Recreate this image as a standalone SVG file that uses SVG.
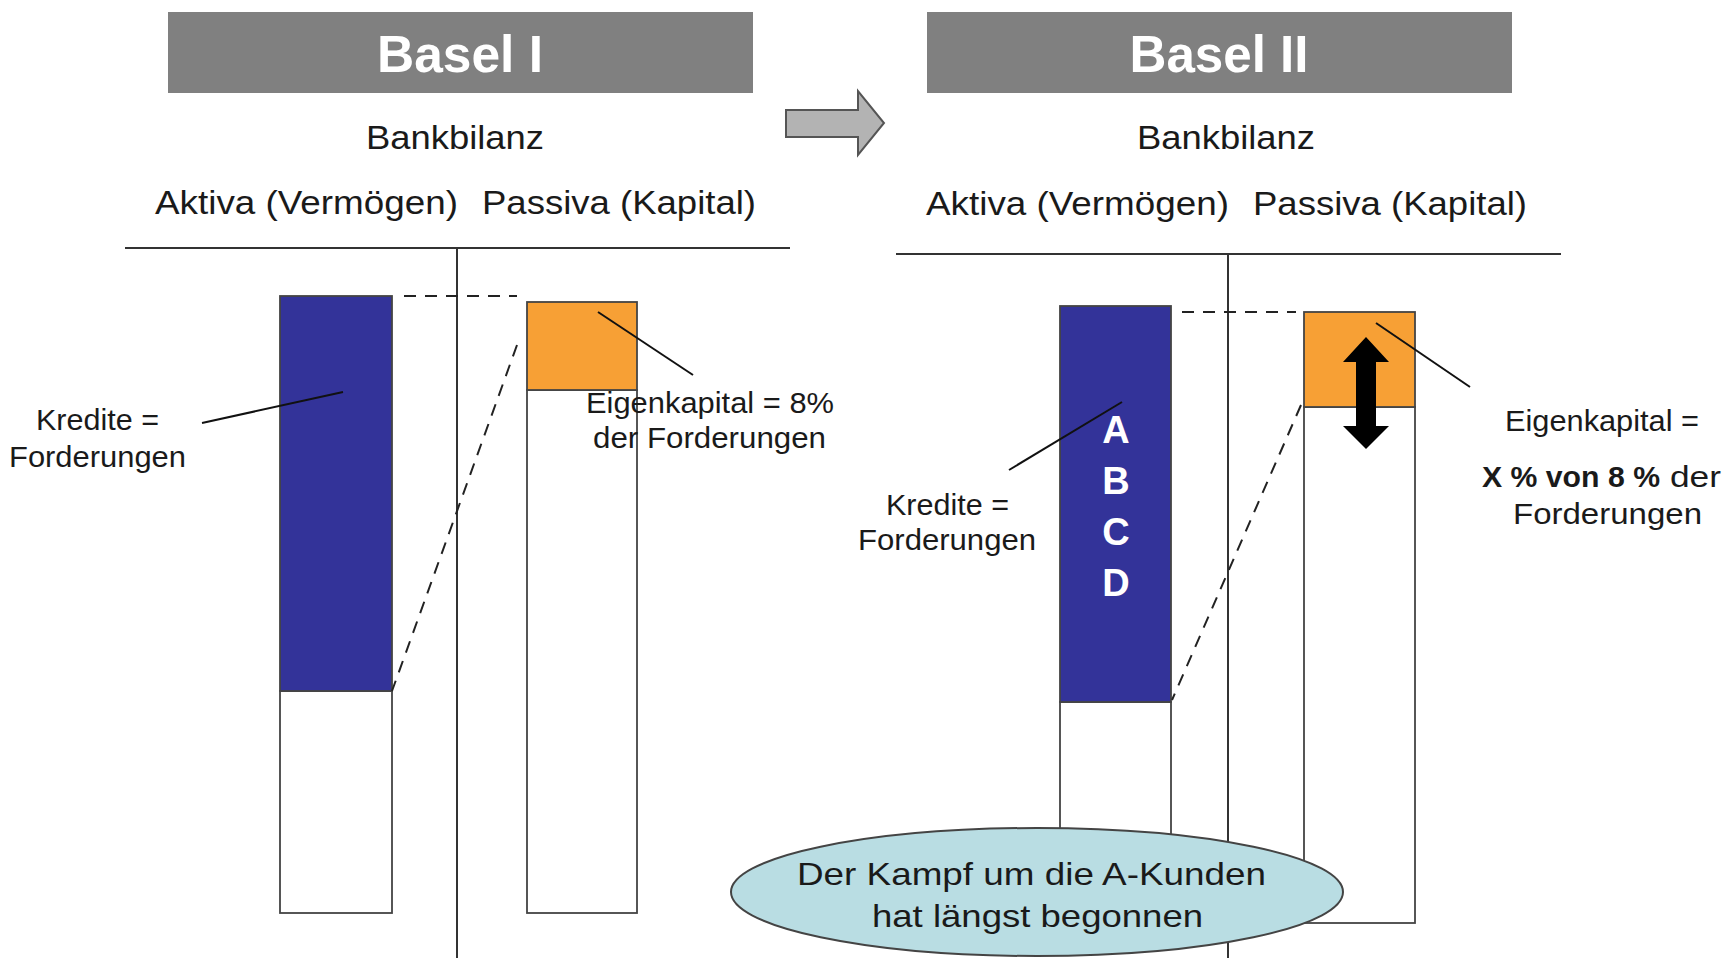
<svg xmlns="http://www.w3.org/2000/svg" width="1730" height="958" viewBox="0 0 1730 958">
<style>
  .hdr{fill:#808080}
  .hdrt{font-family:"Liberation Sans",Arial,sans-serif;font-weight:bold;font-size:52px;fill:#ffffff;text-anchor:middle}
  .t{font-family:"Liberation Sans",Arial,sans-serif;fill:#1a1a1a}
  .b{font-weight:bold}
  .rule{stroke:#333;stroke-width:2;fill:none}
  .bar{stroke:#444;stroke-width:1.8}
  .lead{stroke:#111;stroke-width:2;fill:none}
  .dash{stroke:#222;stroke-width:2;stroke-dasharray:12,9;fill:none}
  .letter{font-family:"Liberation Sans",Arial,sans-serif;font-weight:bold;font-size:38px;fill:#ffffff;text-anchor:middle}
</style>
<rect width="1730" height="958" fill="#ffffff"/>

<g id="basel1-header">
  <rect class="hdr" x="168" y="12" width="585" height="81"/>
  <text class="hdrt" x="460" y="72" textLength="166" lengthAdjust="spacingAndGlyphs">Basel I</text>
</g>
<g id="basel2-header">
  <rect class="hdr" x="927" y="12" width="585" height="81"/>
  <text class="hdrt" x="1219" y="72" textLength="179" lengthAdjust="spacingAndGlyphs">Basel II</text>
</g>

<g id="basel1-titles">
  <text class="t" x="366" y="149" font-size="34" textLength="178" lengthAdjust="spacingAndGlyphs">Bankbilanz</text>
  <text class="t" x="155" y="214" font-size="34" textLength="303" lengthAdjust="spacingAndGlyphs">Aktiva (Vermögen)</text>
  <text class="t" x="482" y="214" font-size="34" textLength="274" lengthAdjust="spacingAndGlyphs">Passiva (Kapital)</text>
</g>
<g id="basel2-titles">
  <text class="t" x="1137" y="149" font-size="34" textLength="178" lengthAdjust="spacingAndGlyphs">Bankbilanz</text>
  <text class="t" x="926" y="215" font-size="34" textLength="303" lengthAdjust="spacingAndGlyphs">Aktiva (Vermögen)</text>
  <text class="t" x="1253" y="215" font-size="34" textLength="274" lengthAdjust="spacingAndGlyphs">Passiva (Kapital)</text>
</g>

<g id="basel1-tconto">
  <line class="rule" x1="125" y1="248" x2="790" y2="248"/>
  <line class="rule" x1="457" y1="248" x2="457" y2="958"/>
</g>
<g id="basel2-tconto">
  <line class="rule" x1="896" y1="254" x2="1561" y2="254"/>
  <line class="rule" x1="1228" y1="254" x2="1228" y2="958"/>
</g>

<g id="basel1-aktiva-bar">
  <rect class="bar" x="280" y="691" width="112" height="222" fill="#ffffff"/>
  <rect class="bar" x="280" y="296" width="112" height="395" fill="#333399"/>
</g>
<g id="basel1-passiva-bar">
  <rect class="bar" x="527" y="390" width="110" height="523" fill="#ffffff"/>
  <rect class="bar" x="527" y="302" width="110" height="88" fill="#f7a035"/>
</g>

<g id="basel2-aktiva-bar">
  <rect class="bar" x="1060" y="702" width="111" height="221" fill="#ffffff"/>
  <rect class="bar" x="1060" y="306" width="111" height="396" fill="#333399"/>
  <text class="letter" x="1116" y="443">A</text>
  <text class="letter" x="1116" y="494">B</text>
  <text class="letter" x="1116" y="545">C</text>
  <text class="letter" x="1116" y="596">D</text>
</g>
<g id="basel2-passiva-bar">
  <rect class="bar" x="1304" y="407" width="111" height="516" fill="#ffffff"/>
  <rect class="bar" x="1304" y="312" width="111" height="95" fill="#f7a035"/>
  <polygon id="double-arrow" fill="#000000" points="1366,337 1389,362 1376,362 1376,426 1389,426 1366,449 1343,426 1356,426 1356,362 1343,362"/>
</g>

<g id="transition-arrow">
  <polygon fill="#b3b3b3" stroke="#555" stroke-width="2" points="786,110 858,110 858,91 884,123 858,155 858,137 786,137"/>
</g>

<g id="connectors">
  <line class="dash" x1="404" y1="296" x2="517" y2="296"/>
  <line class="dash" x1="517" y1="345" x2="392" y2="691"/>
  <line class="dash" x1="1182" y1="312" x2="1296" y2="312"/>
  <line class="dash" x1="1301" y1="405" x2="1172" y2="700"/>
  <line class="lead" x1="202" y1="423" x2="343" y2="392"/>
  <line class="lead" x1="598" y1="312" x2="693" y2="375"/>
  <line class="lead" x1="1122" y1="402" x2="1009" y2="470"/>
  <line class="lead" x1="1376" y1="323" x2="1470" y2="387"/>
</g>

<g id="label-kredite-1">
  <text class="t" x="36" y="430" font-size="29" textLength="123" lengthAdjust="spacingAndGlyphs">Kredite =</text>
  <text class="t" x="9" y="467" font-size="29" textLength="177" lengthAdjust="spacingAndGlyphs">Forderungen</text>
</g>
<g id="label-eigenkapital-1">
  <text class="t" x="586" y="413" font-size="29" textLength="248" lengthAdjust="spacingAndGlyphs">Eigenkapital = 8%</text>
  <text class="t" x="593" y="448" font-size="29" textLength="233" lengthAdjust="spacingAndGlyphs">der Forderungen</text>
</g>
<g id="label-kredite-2">
  <text class="t" x="886" y="515" font-size="29" textLength="123" lengthAdjust="spacingAndGlyphs">Kredite =</text>
  <text class="t" x="858" y="550" font-size="29" textLength="178" lengthAdjust="spacingAndGlyphs">Forderungen</text>
</g>
<g id="label-eigenkapital-2">
  <text class="t" x="1505" y="431" font-size="29" textLength="194" lengthAdjust="spacingAndGlyphs">Eigenkapital =</text>
  <text class="t b" x="1482" y="487" font-size="29" textLength="178" lengthAdjust="spacingAndGlyphs">X % von 8 %</text>
  <text class="t" x="1670" y="487" font-size="29" textLength="51" lengthAdjust="spacingAndGlyphs">der</text>
  <text class="t" x="1513" y="524" font-size="29" textLength="189" lengthAdjust="spacingAndGlyphs">Forderungen</text>
</g>

<g id="callout-ellipse">
  <ellipse cx="1037" cy="892" rx="306" ry="64" fill="#b9dde3" stroke="#444" stroke-width="2"/>
  <text class="t" x="797" y="885" font-size="32" textLength="469" lengthAdjust="spacingAndGlyphs">Der Kampf um die A-Kunden</text>
  <text class="t" x="872" y="927" font-size="32" textLength="331" lengthAdjust="spacingAndGlyphs">hat längst begonnen</text>
</g>
</svg>
